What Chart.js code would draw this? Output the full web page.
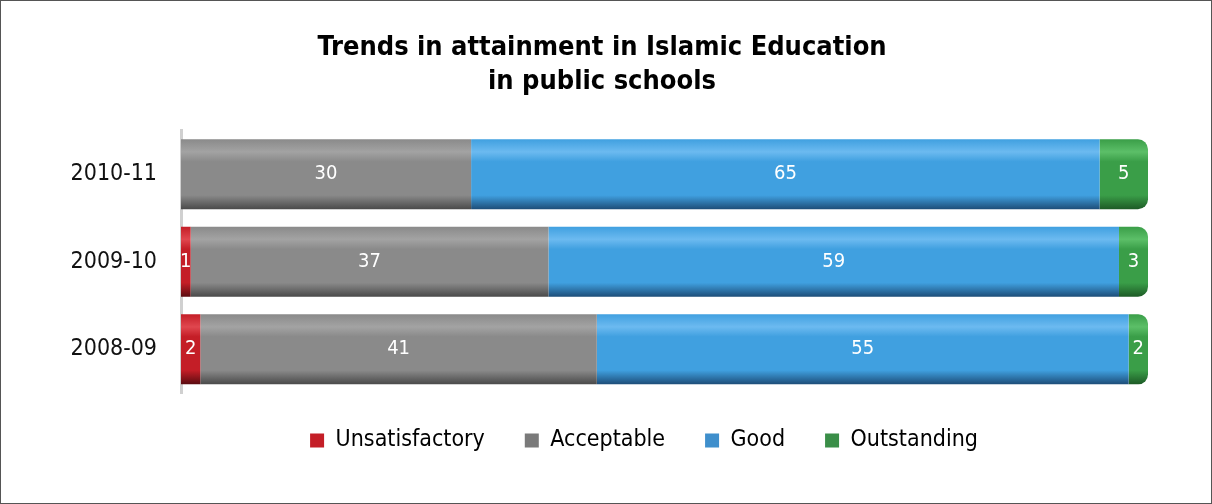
<!DOCTYPE html>
<html>
<head>
<meta charset="utf-8">
<script src="https://cdn.jsdelivr.net/npm/chart.js@4.4.0/dist/chart.umd.min.js"></script>
<style>
  html, body { margin: 0; padding: 0; background: #fff; }
  #wrap { width: 1212px; height: 504px; box-sizing: border-box; border: 1px solid #555; position: relative; }
</style>
</head>
<body>
<div id="wrap"><canvas id="attChart" width="1210" height="502"></canvas></div>
<script>
var years = ["2010-11", "2009-10", "2008-09"];
var unsatisfactory = [0, 1, 2];
var acceptable = [30, 37, 41];
var good = [65, 59, 55];
var outstanding = [5, 3, 2];

var FONT = "'DejaVu Sans Condensed', 'Liberation Sans Narrow', sans-serif";

// light / mid / dark shades give each bar a rounded tube look
function tube(light, mid, dark) {
  return function (ctx) {
    var chart = ctx.chart;
    if (!chart.chartArea || ctx.dataIndex === undefined) return mid;
    var yc = chart.scales.y.getPixelForValue(ctx.dataIndex);
    var g = chart.ctx.createLinearGradient(0, yc - 35, 0, yc + 35);
    g.addColorStop(0, mid);
    g.addColorStop(0.18, light);
    g.addColorStop(0.32, mid);
    g.addColorStop(0.8, mid);
    g.addColorStop(1, dark);
    return g;
  };
}

var segLabels = {
  id: 'segLabels',
  afterDatasetsDraw: function (chart) {
    var c = chart.ctx;
    c.save();
    c.fillStyle = '#ffffff';
    c.font = '20px ' + FONT;
    c.textAlign = 'center';
    c.textBaseline = 'middle';
    chart.data.datasets.forEach(function (ds, i) {
      chart.getDatasetMeta(i).data.forEach(function (bar, j) {
        var v = ds.data[j];
        if (!v) return;
        c.fillText(String(v), (bar.x + bar.base) / 2, bar.y);
      });
    });
    c.restore();
  }
};

// title and legend are not centred on the same line in the original
var nudge = {
  id: 'nudge',
  afterLayout: function (chart) {
    var t = chart.titleBlock, l = chart.legend;
    var dt = 601 - (t.left + t.right) / 2;
    t.left += dt; t.right += dt;
    var dl = 643 - (l.left + l.right) / 2;
    l.left += dl; l.right += dl;
    l.top -= 4; l.bottom -= 4;
  }
};

new Chart(document.getElementById('attChart'), {
  type: 'bar',
  data: {
    labels: years,
    datasets: [
      { label: 'Unsatisfactory', data: unsatisfactory, backgroundColor: tube('#e0474f', '#c41e27', '#5a0c10') },
      { label: 'Acceptable', data: acceptable, backgroundColor: tube('#a3a3a3', '#8a8a8a', '#4a4a4a') },
      { label: 'Good', data: good, backgroundColor: tube('#6cbaf0', '#40a0e0', '#1d4d78') },
      { label: 'Outstanding', data: outstanding, backgroundColor: tube('#5cbf68', '#3a9e48', '#1d5a26'),
        borderRadius: { topRight: 10, bottomRight: 10 } }
    ]
  },
  options: {
    indexAxis: 'y',
    responsive: false,
    animation: false,
    maintainAspectRatio: false,
    layout: { padding: { left: 0, right: 63, bottom: 37 } },
    datasets: { bar: { categoryPercentage: 1, barPercentage: 0.8, borderSkipped: false } },
    scales: {
      x: { stacked: true, min: 0, max: 100, display: false },
      y: {
        stacked: true,
        grid: { display: false },
        border: { display: true, color: '#d0d0d0', width: 3 },
        ticks: { color: '#111', font: { family: FONT, size: 23 }, padding: 16 },
        afterFit: function (s) { s.width = 180; }
      }
    },
    plugins: {
      title: {
        display: true,
        text: ['Trends in attainment in Islamic Education', 'in public schools'],
        color: '#000',
        font: { family: FONT, size: 27, weight: 'bold', lineHeight: 1.25 },
        padding: { top: 30, bottom: 32 }
      },
      legend: {
        position: 'bottom',
        labels: {
          color: '#111',
          font: { family: FONT, size: 23 },
          boxWidth: 14, boxHeight: 14, padding: 40,
          generateLabels: function (chart) {
            var cols = ['#c41e27', '#7a7a7a', '#3f8fcc', '#3a8e48'];
            return chart.data.datasets.map(function (ds, i) {
              return { text: ds.label, fillStyle: cols[i], strokeStyle: cols[i], lineWidth: 0, datasetIndex: i };
            });
          }
        }
      },
      tooltip: { enabled: false }
    }
  },
  plugins: [segLabels, nudge]
});
</script>
</body>
</html>
